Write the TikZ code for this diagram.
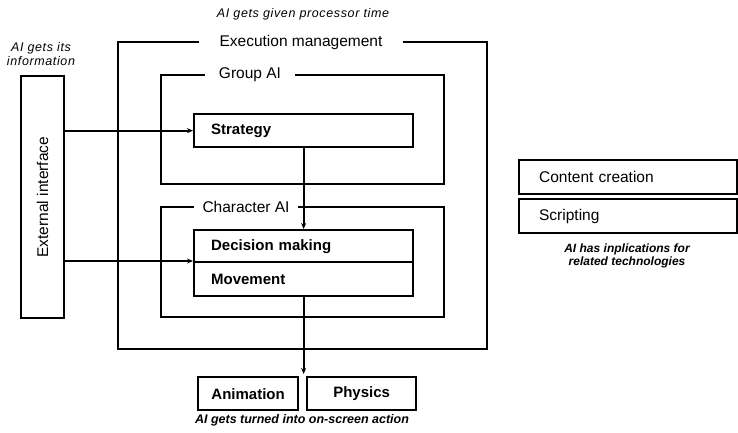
\documentclass[tikz,border=0pt]{standalone}
\usepackage{fontspec}
\setmainfont{Liberation Sans}
\newfontfamily\notefont[LetterSpace=5]{Liberation Sans}
\usetikzlibrary{arrows.meta}

\begin{document}
\begin{tikzpicture}[x=1pt,y=-1pt,
  frame/.style={line width=1.4pt},
  ftitle/.style={inner ysep=0pt,font=\fontsize{15.5}{18}\selectfont},
  lbox/.style={draw,line width=2.3pt,anchor=north west,inner ysep=0pt,
    inner xsep=17pt,align=left,font=\fontsize{15}{18}\selectfont\bfseries},
  cbox/.style={draw,line width=2.3pt,anchor=north west,inner sep=0pt,
    font=\fontsize{15}{18}\selectfont\bfseries},
  plainbox/.style={lbox,inner xsep=20pt,font=\fontsize{15.5}{18}\selectfont},
  link/.style={line width=2.3pt,-{Stealth[length=6pt,width=5pt]}},
  note/.style={font=\fontsize{12.5}{14}\selectfont\notefont\itshape,align=center,inner sep=0pt},
  bnote/.style={font=\fontsize{12.5}{14}\selectfont\bfseries\itshape,align=center,inner sep=0pt}
]
\useasboundingbox (0,0) rectangle (738,432);

% nested frames with their titles
\node[ftitle,inner xsep=20pt] (exectitle) at (301,42) {Execution management};
\draw[frame] (exectitle.east) -- (487,42) -- (487,349) -- (118,349) -- (118,42) -- (exectitle.west);

\node[ftitle,inner xsep=14pt] (grouptitle) at (250,75) {Group AI};
\draw[frame] (grouptitle.east) -- (444,75) -- (444,184) -- (161,184) -- (161,75) -- (grouptitle.west);

\node[ftitle,inner xsep=8pt] (chartitle) at (246,207) {Character AI};
\draw[frame] (chartitle.east) -- (444,207) -- (444,317) -- (161,317) -- (161,207) -- (chartitle.west);

% boxes
\node[lbox,text width=185pt,minimum height=33pt] (strategy) at (193,113) {Strategy};
\node[lbox,text width=185pt,minimum height=32pt] (decision) at (193,229) {Decision making};
\node[lbox,text width=185pt,minimum height=34pt] (movement) at (193,261) {Movement};

\node[cbox,minimum width=100pt,minimum height=33pt] (animation) at (197,376) {Animation};
\node[cbox,minimum width=109pt,minimum height=33pt] (physics) at (306,376) {Physics};

\node[cbox,minimum width=43pt,minimum height=242pt,font=\fontsize{15.5}{18}\selectfont]
  (external) at (20,75) {\rotatebox{90}{External interface}};

\node[plainbox,text width=178pt,minimum height=34pt] (content) at (518,159) {Content creation};
\node[plainbox,text width=178pt,minimum height=34pt] (scripting) at (518,198) {Scripting};

% connectors
\coordinate (output) at (strategy.south |- 0,374);
\draw[link] (strategy.south) -- (decision.north);
\draw[link] (movement.south) -- (output);
\draw[link] (external.east |- strategy.west) -- (strategy.west);
\draw[link] (external.east |- movement.north west) -- (movement.north west);

% annotations
\node[note] (proc) at (303,14) {AI gets given processor time};
\node[note] (info) at (41,54) {AI gets its\\information};
\node[bnote] (action) at (302,420) {AI gets turned into on-screen action};
\node[bnote,font=\fontsize{12}{12.5}\selectfont\bfseries\itshape] (impl) at (627,256)
  {AI has inplications for\\related technologies};
\end{tikzpicture}
\end{document}
